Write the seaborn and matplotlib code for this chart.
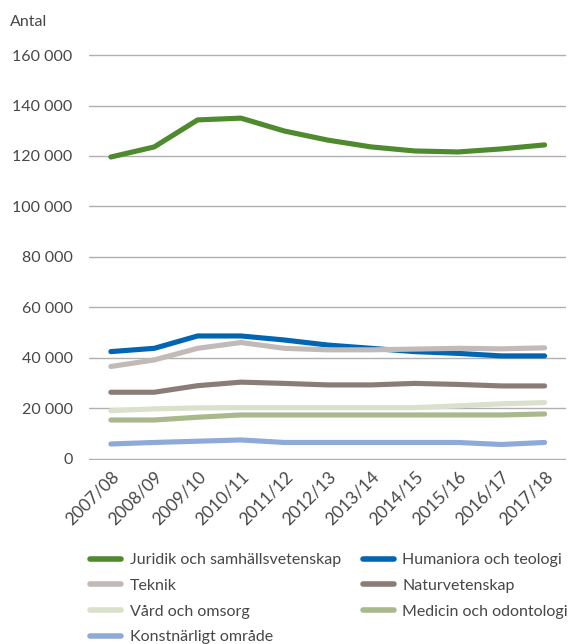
import numpy as np
import pandas as pd
import matplotlib
matplotlib.use("Agg")
import matplotlib.pyplot as plt
import seaborn as sns

years = ["2007/08", "2008/09", "2009/10", "2010/11", "2011/12", "2012/13",
         "2013/14", "2014/15", "2015/16", "2016/17", "2017/18"]

juridik = [119600, 123600, 134300, 135000, 129900, 126300, 123600, 122000, 121600, 122800, 124400]
humaniora = [42500, 43800, 48700, 48700, 47100, 45100, 43800, 42500, 41800, 40800, 40800]
teknik = [36600, 39200, 43800, 46100, 43800, 43200, 43200, 43500, 43800, 43600, 44000]
naturvet = [26400, 26400, 29000, 30400, 29900, 29300, 29300, 29900, 29500, 28900, 28900]
vard = [19100, 19800, 20200, 20300, 20300, 20300, 20300, 20300, 21000, 21800, 22300]
medicin = [15400, 15400, 16500, 17400, 17400, 17400, 17400, 17400, 17400, 17400, 17800]
konst = [5900, 6500, 7000, 7500, 6500, 6500, 6500, 6500, 6500, 5700, 6500]

series = {
    "Juridik och samhällsvetenskap": juridik,
    "Humaniora och teologi": humaniora,
    "Teknik": teknik,
    "Naturvetenskap": naturvet,
    "Vård och omsorg": vard,
    "Medicin och odontologi": medicin,
    "Konstnärligt område": konst,
}
colors = ["#4e8a2e", "#0066b3", "#c2bab7", "#8a7d78", "#d9e0cc", "#a9b98c", "#8eaad9"]

rows = []
for name, vals in series.items():
    for i, v in enumerate(vals):
        rows.append({"idx": i, "value": v, "omrade": name})
df = pd.DataFrame(rows)

sns.set_style("white")
plt.rcParams["font.family"] = ["Lato", "DejaVu Sans"]
text_col = "#474747"
fs = 11.5

fig = plt.figure(figsize=(5.68, 6.44), dpi=100)
# axes spans y 160 500 .. -500 so the 0 and 160 000 gridlines are not clipped
ax = fig.add_axes([0.157, 0.2855, 0.84, 0.631])

sns.lineplot(data=df, x="idx", y="value", hue="omrade", hue_order=list(series.keys()),
             palette=colors, linewidth=3.7, ax=ax, legend=False,
             solid_capstyle="round")

ax.set_xlim(-0.5, 10.5)
ax.set_ylim(-500, 160500)
yt = np.arange(0, 160001, 20000)
ax.set_yticks(yt)
ax.set_yticklabels([f"{v:,}".replace(",", " ") for v in yt], color=text_col, fontsize=fs)
ax.set_xticks(range(len(years)))
ax.set_xticklabels(years, rotation=45, ha="right", rotation_mode="anchor",
                   color=text_col, fontsize=12.5)
ax.tick_params(axis="both", length=0, pad=12)
ax.tick_params(axis="x", pad=6)
ax.grid(axis="y", color="#b0b0b0", linewidth=1)
ax.set_axisbelow(True)
for s in ax.spines.values():
    s.set_visible(False)
ax.set_xlabel("")
ax.set_ylabel("")

fig.text(0.017, 0.966, "Antal", color=text_col, fontsize=fs, va="center")

handles = [plt.Line2D([], [], color=c, linewidth=4, solid_capstyle="round") for c in colors]
labels = list(series.keys())
order = [0, 2, 4, 6, 1, 3, 5]
fig.legend([handles[i] for i in order], [labels[i] for i in order],
           ncol=2, frameon=False, loc="upper left", bbox_to_anchor=(0.148, 0.151),
           fontsize=fs, handlelength=1.9, handletextpad=0.55, columnspacing=1.4,
           labelspacing=0.72, labelcolor=text_col, borderaxespad=0)

fig.savefig("out.png", dpi=100)
